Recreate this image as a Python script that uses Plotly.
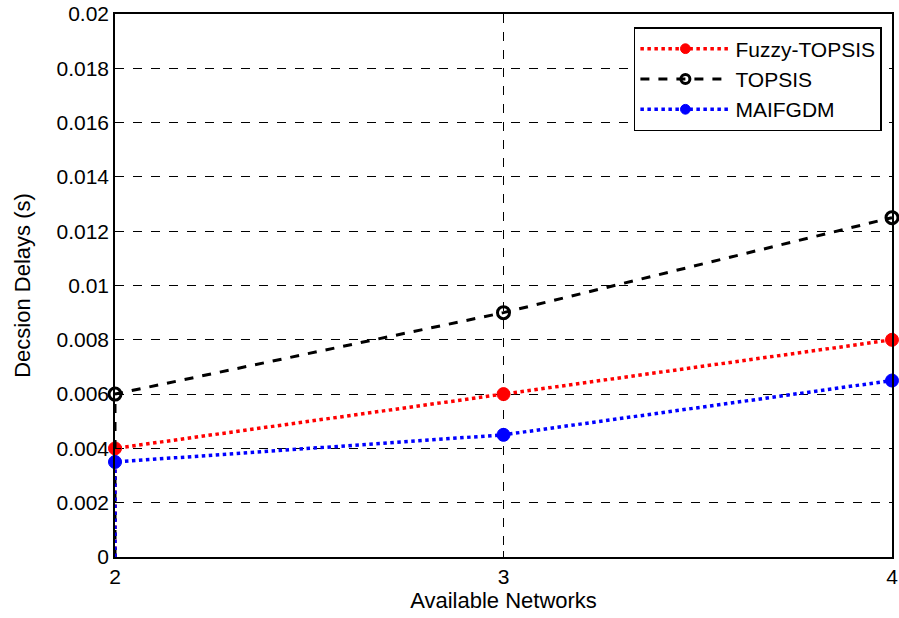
import plotly.graph_objects as go

networks = [2, 2, 3, 4]
fuzzy_topsis = [0, 0.004, 0.006, 0.008]
topsis = [0, 0.006, 0.009, 0.0125]
maifgdm = [0, 0.0035, 0.0045, 0.0065]
marker_sizes = [0, 13, 13, 13]
y_ticks = [0, 0.002, 0.004, 0.006, 0.008, 0.01, 0.012, 0.014, 0.016, 0.018, 0.02]
y_tick_labels = ["0", "0.002", "0.004", "0.006", "0.008", "0.01", "0.012", "0.014", "0.016", "0.018", "0.02"]
x_ticks = [2, 3, 4]

FONT = "Liberation Sans, Arial"

fig = go.Figure()
fig.add_trace(go.Scatter(x=networks, y=fuzzy_topsis, name="Fuzzy-TOPSIS", mode="lines+markers",
                         cliponaxis=False,
                         line=dict(color="red", width=3.5, dash="dot"),
                         marker=dict(color="red", size=marker_sizes, symbol="circle", opacity=1,
                                     line=dict(color="red", width=1))))
fig.add_trace(go.Scatter(x=networks, y=topsis, name="TOPSIS", mode="lines+markers",
                         cliponaxis=False,
                         line=dict(color="black", width=3, dash="dash"),
                         marker=dict(color="black", size=[0, 12, 12, 12], symbol="circle-open", opacity=1,
                                     line=dict(color="black", width=3))))
fig.add_trace(go.Scatter(x=networks, y=maifgdm, name="MAIFGDM", mode="lines+markers",
                         cliponaxis=False,
                         line=dict(color="blue", width=3.5, dash="dot"),
                         marker=dict(color="blue", size=marker_sizes, symbol="circle", opacity=1,
                                     line=dict(color="blue", width=1))))

axis_common = dict(showline=True, linecolor="black", linewidth=1.5, mirror=True,
                   ticks="inside", ticklen=6, tickcolor="black", automargin=False,
                   showgrid=True, gridcolor="black", griddash="dash", gridwidth=1,
                   zeroline=False, tickfont=dict(family=FONT, size=21, color="black"))

fig.update_layout(
    width=899, height=618,
    margin=dict(l=115, r=7, t=14, b=61),
    plot_bgcolor="white", paper_bgcolor="white",
    font=dict(family=FONT, color="black"),
    xaxis=dict(range=[2, 4], tickvals=x_ticks,
               title=dict(text="Available Networks", font=dict(size=22), standoff=5), **axis_common),
    yaxis=dict(range=[0, 0.02], tickvals=y_ticks, ticktext=y_tick_labels,
               title=dict(text="Decsion Delays (s)", font=dict(size=22), standoff=20), **axis_common),
    legend=dict(x=0.987, y=0.976, xanchor="right", yanchor="top", bgcolor="white",
                bordercolor="black", borderwidth=1.5, font=dict(size=21, color="black"),
                tracegroupgap=0, itemwidth=90),
    showlegend=True,
)

fig.write_html("out.html", config={"displayModeBar": False},
               post_script="document.body.style.margin='0';")
